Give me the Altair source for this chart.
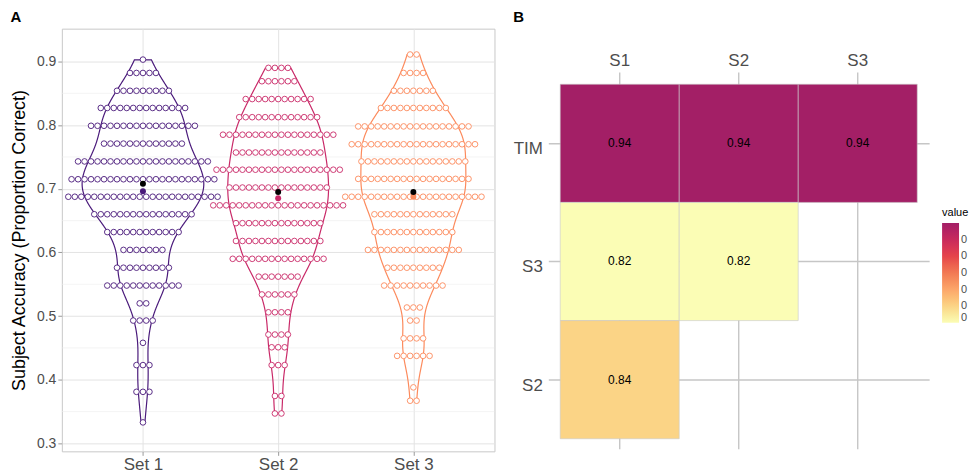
import altair as alt
import pandas as pd

# ---------------- data: panel A (dot rows: value, number of dots) ----------------
set_names = ["Set 1", "Set 2", "Set 3"]
set_colors = ["#4A1A7B", "#C92968", "#FC8A5C"]

s1_values = [0.903, 0.882, 0.854, 0.827, 0.799, 0.771, 0.743, 0.715, 0.6875, 0.660,
             0.632, 0.604, 0.576, 0.548, 0.520, 0.493, 0.458, 0.423, 0.381, 0.333]
s1_counts = [1, 5, 9, 14, 17, 13, 21, 23, 24, 16, 12, 7, 9, 12, 2, 4, 1, 3, 3, 1]

s2_values = [0.890, 0.869, 0.841, 0.8125, 0.785, 0.757, 0.730, 0.702, 0.674, 0.646,
             0.618, 0.590, 0.562, 0.534, 0.506, 0.471, 0.451, 0.423, 0.3745, 0.347]
s2_counts = [4, 6, 11, 13, 18, 14, 20, 16, 21, 14, 14, 15, 7, 6, 4, 4, 3, 3, 2, 2]

s3_values = [0.911, 0.882, 0.854, 0.827, 0.798, 0.770, 0.743, 0.7156, 0.6875, 0.660,
             0.632, 0.604, 0.576, 0.548, 0.5135, 0.493, 0.465, 0.4375, 0.388, 0.367]
s3_counts = [2, 4, 7, 11, 18, 20, 17, 18, 22, 13, 13, 15, 9, 10, 3, 2, 4, 6, 1, 2]

black_points = [0.708, 0.695, 0.695]
colored_points = [0.696, 0.685, 0.6875]

minor_grid = [0.35, 0.45, 0.55, 0.65, 0.75, 0.85]

# ---------------- data: panel B ----------------
heat_cols = ["S1", "S2", "S3"]
heat_rows = ["TIM", "S3", "S2"]
cell_row = ["TIM", "TIM", "TIM", "S3", "S3", "S2"]
cell_col = ["S1", "S2", "S3", "S1", "S2", "S1"]
cell_val = [0.94, 0.94, 0.94, 0.82, 0.82, 0.84]
legend_vals = [0.82, 0.84, 0.86, 0.88, 0.90, 0.92]

# ---------------- build tables ----------------
DOT_STEP = 0.048
rows = []
for k, (vals, cnts) in enumerate([(s1_values, s1_counts), (s2_values, s2_counts), (s3_values, s3_counts)]):
    for v, n in zip(vals, cnts):
        for i in range(n):
            rows.append({"set": set_names[k], "idx": k + 1, "value": v,
                         "xpos": k + 1 + (i - (n - 1) / 2) * DOT_STEP})
dots = pd.DataFrame(rows)
means = pd.DataFrame({"set": set_names, "idx": [1, 2, 3],
                      "black": black_points, "col": colored_points})
minor_df = pd.DataFrame({"v": minor_grid})

FONT = "Liberation Sans"
xscale = alt.Scale(domain=[0.4, 3.6], nice=False, zero=False)
yscale = alt.Scale(domain=[0.2875, 0.9516], nice=False, zero=False)
xaxis = alt.Axis(values=[1, 2, 3], labelExpr="'Set ' + datum.value", title=None,
                 grid=True, gridColor="#e3e3e3", gridWidth=1, domain=False,
                 ticks=True, tickColor="#9a9a9a", tickSize=4, labelFontSize=17,
                 labelColor="#4d4d4d", labelPadding=1, labelFont=FONT)
yaxis = alt.Axis(values=[0.3, 0.4, 0.5, 0.6, 0.7, 0.8, 0.9], format=".1f",
                 title="Subject Accuracy (Proportion Correct)", titleFontSize=18,
                 titleFontWeight="normal", titleColor="black", titlePadding=8,
                 titleFont=FONT, grid=True, gridColor="#e3e3e3", gridWidth=1,
                 domain=False, ticks=True, tickColor="#9a9a9a", tickSize=4,
                 labelFontSize=14, labelColor="#4d4d4d", labelPadding=2, labelFont=FONT)
stroke_scale = alt.Scale(domain=set_names, range=set_colors)

minor = alt.Chart(minor_df).mark_rule(color="#ececec", strokeWidth=0.6).encode(
    y=alt.Y("v:Q", scale=yscale, axis=yaxis)
)

violin = alt.Chart(dots).transform_joinaggregate(
    vmin="min(value)", vmax="max(value)", groupby=["set"]
).transform_density(
    "value", groupby=["set", "idx", "vmin", "vmax"], as_=["value", "density"],
    extent=[0.3, 0.95], steps=700, bandwidth=0.031
).transform_filter(
    "datum.value >= datum.vmin && datum.value <= datum.vmax"
).transform_joinaggregate(
    maxd="max(density)"
).transform_calculate(
    xl="datum.idx - datum.density / datum.maxd * 0.45",
    xr="datum.idx + datum.density / datum.maxd * 0.45"
).mark_area(orient="horizontal", fillOpacity=0, strokeWidth=1.2).encode(
    y=alt.Y("value:Q", scale=yscale, axis=yaxis),
    x=alt.X("xl:Q", scale=xscale, axis=xaxis),
    x2="xr:Q",
    stroke=alt.Stroke("set:N", scale=stroke_scale, legend=None),
    detail="set:N",
)

dot_layer = alt.Chart(dots).mark_point(
    shape="circle", size=32, fill="white", fillOpacity=1, strokeWidth=0.9, opacity=1
).encode(
    x=alt.X("xpos:Q", scale=xscale, axis=xaxis),
    y=alt.Y("value:Q", scale=yscale, axis=yaxis),
    stroke=alt.Stroke("set:N", scale=stroke_scale, legend=None),
)

col_pts = alt.Chart(means).mark_point(shape="circle", filled=True, size=36, opacity=1).encode(
    x=alt.X("idx:Q", scale=xscale, axis=xaxis),
    y=alt.Y("col:Q", scale=yscale, axis=yaxis),
    color=alt.Color("set:N", scale=stroke_scale, legend=None),
)
blk_pts = alt.Chart(means).mark_point(shape="circle", filled=True, size=36, opacity=1,
                                       color="black").encode(
    x=alt.X("idx:Q", scale=xscale, axis=xaxis),
    y=alt.Y("black:Q", scale=yscale, axis=yaxis),
)

panel_a = alt.layer(minor, violin, dot_layer, col_pts, blk_pts).properties(
    width=434, height=424,
    view=alt.ViewBackground(stroke="#c8c8c8", strokeWidth=1),
    title=alt.TitleParams("A", anchor="start", frame="bounds", fontSize=15,
                          fontWeight="bold", color="black", offset=4, font=FONT),
)

# ---------------- panel B ----------------
cells = pd.DataFrame({"row": cell_row, "col": cell_col, "value": cell_val})
col_df = pd.DataFrame({"col": heat_cols})

hx_scale = alt.Scale(domain=heat_cols, paddingInner=0, paddingOuter=0.1)
hy_scale = alt.Scale(domain=heat_rows, paddingInner=0, paddingOuter=0.28, align=0.84)
hx_axis = alt.Axis(orient="top", offset=-46, title=None, domain=False, ticks=False,
                   grid=False, labelFontSize=17, labelColor="#4d4d4d", labelPadding=5,
                   labelAngle=0, labelFont=FONT, zindex=0)
hy_axis = alt.Axis(title=None, domain=False, ticks=False, grid=True, gridColor="#c6c6c6",
                   gridWidth=1.4, labelFontSize=17, labelColor="#4d4d4d", labelPadding=6,
                   labelOffset=6, labelFont=FONT, zindex=0)

vgrid = alt.Chart(col_df).mark_rule(color="#c6c6c6", strokeWidth=1.4).encode(
    x=alt.X("col:N", scale=hx_scale, axis=hx_axis, bandPosition=0.5),
    y=alt.value(44), y2=alt.value(422),
)

tiles = alt.Chart(cells).mark_rect(stroke="#c9c9c9", strokeWidth=0.6, opacity=1,
                                   fillOpacity=1).encode(
    x=alt.X("col:N", scale=hx_scale, axis=hx_axis),
    y=alt.Y("row:N", scale=hy_scale, axis=hy_axis),
    color=alt.Color("value:Q",
                    scale=alt.Scale(domain=[0.82, 0.86, 0.90, 0.94],
                                    range=["#FBFDB5", "#FCA66A", "#E5444B", "#A31F66"]),
                    legend=alt.Legend(orient="none", legendX=395, legendY=179,
                                      direction="vertical", title="value",
                                      titleFontSize=11, titleFontWeight="normal",
                                      titleColor="black", titleFont=FONT,
                                      gradientLength=100, gradientThickness=17,
                                      labelFontSize=11, labelColor="#4d4d4d",
                                      labelFont=FONT, values=legend_vals,
                                      labelExpr="'0'", padding=0)),
)

labels = alt.Chart(cells).mark_text(fontSize=12, color="black", font=FONT).encode(
    x=alt.X("col:N", scale=hx_scale, axis=hx_axis),
    y=alt.Y("row:N", scale=hy_scale, axis=hy_axis),
    text=alt.Text("value:Q", format=".2f"),
)

panel_b = alt.layer(vgrid, tiles, labels).properties(
    width=382, height=422,
    title=alt.TitleParams("B", anchor="start", frame="bounds", fontSize=15,
                          fontWeight="bold", color="black", offset=4, font=FONT),
)

chart = alt.hconcat(panel_a, panel_b, spacing=17).properties(
    padding={"left": 2, "top": 0, "right": 0, "bottom": 0}
).configure(font=FONT).configure_view(stroke="transparent").configure_legend(
    labelColor="#4d4d4d"
)

chart.save("out.html", embed_options={"renderer": "svg", "actions": False})
